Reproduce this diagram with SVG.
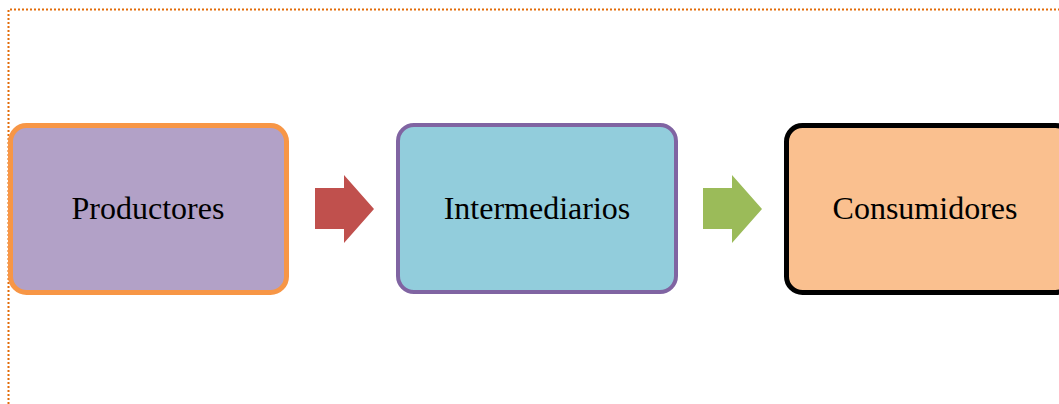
<svg xmlns="http://www.w3.org/2000/svg" width="1059" height="404" viewBox="0 0 1059 404">
<style>
.lbl{font-family:"Liberation Serif","Times New Roman",serif;font-size:32px;fill:#000;text-anchor:middle}
</style>
<rect width="1059" height="404" fill="#fff"/>
<path d="M8.5,404 V9.5 H1059" fill="none" stroke="#e36c09" stroke-width="2" stroke-dasharray="2,2"/>
<g id="connectors">
<polygon points="315,188 344,188 344,175 374,209 344,243 344,229 315,229" fill="#c0504d"/>
<polygon points="703,188 732,188 732,175 762,209 732,243 732,229 703,229" fill="#9bbb59"/>
</g>
<g id="productores">
<rect x="10.5" y="125.5" width="276" height="167" rx="16" fill="#b2a1c7" stroke="#f79646" stroke-width="5"/>
<text class="lbl" x="148" y="219">Productores</text>
</g>
<g id="intermediarios">
<rect x="398" y="125" width="278" height="167" rx="16" fill="#92cddc" stroke="#8064a2" stroke-width="4"/>
<text class="lbl" x="537" y="219">Intermediarios</text>
</g>
<g id="consumidores">
<rect x="786.5" y="125.5" width="285" height="167" rx="16" fill="#fac08f" stroke="#000" stroke-width="5"/>
<text class="lbl" x="925" y="219">Consumidores</text>
</g>
</svg>
